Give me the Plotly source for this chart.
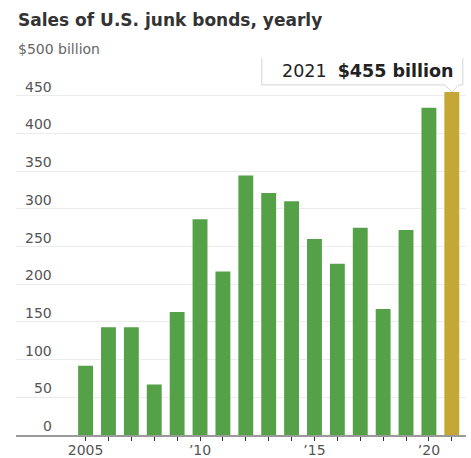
import plotly.graph_objects as go

years = list(range(2005, 2022))
sales = [92, 143, 143, 67, 163, 286, 217, 344, 321, 310, 260, 227, 275, 167, 272, 434, 455]
bar_colors = ["#54a148"] * 16 + ["#c5a735"]
x_tick_text = ["2005", "", "", "", "", "\u201910", "", "", "", "", "\u201915", "", "", "", "", "\u201920", ""]
y_tick_vals = [0, 50, 100, 150, 200, 250, 300, 350, 400, 450]
y_tick_text = [str(v) for v in y_tick_vals]
title_text = "Sales of U.S. junk bonds, yearly"
unit_label = "$500 billion"
highlight_year = 2021
highlight_value = 455

FONT = "DejaVu Sans"
fig = go.Figure()
fig.add_trace(go.Bar(
    x=years, y=sales, width=0.65,
    marker=dict(color=bar_colors, line=dict(width=0)),
    hoverinfo="skip",
))

fig.update_layout(
    width=471, height=458,
    margin=dict(l=16, r=5, t=58, b=23, autoexpand=False),
    paper_bgcolor="white", plot_bgcolor="white",
    showlegend=False,
    font=dict(family=FONT, color="#555555"),
    xaxis=dict(
        range=[2001.96, 2021.62],
        tickvals=years, ticktext=x_tick_text,
        ticks="outside", ticklen=4, tickwidth=1, tickcolor="#333333",
        ticklabelstandoff=-3,
        showline=True, linecolor="#999999", linewidth=1.5,
        showgrid=False, zeroline=False, automargin=False,
        tickfont=dict(size=14, color="#555555"),
        fixedrange=True,
    ),
    yaxis=dict(
        range=[0, 500], tickvals=y_tick_vals + [500],
        showticklabels=False, showgrid=True, gridcolor="#ececec", gridwidth=1,
        zeroline=False, showline=False, fixedrange=True, automargin=False,
    ),
)

annotations = []
annotations.append(dict(
    text="<b>" + title_text + "</b>", xref="paper", yref="paper",
    x=0, y=1, yshift=26, xanchor="left", yanchor="bottom",
    showarrow=False, font=dict(size=17, color="#333333", family=FONT),
))
annotations.append(dict(
    text=unit_label, xref="paper", yref="y", x=0, y=500, yshift=-1,
    xanchor="left", yanchor="bottom", showarrow=False,
    font=dict(size=14, color="#666666", family=FONT),
))
for v, t in zip(y_tick_vals, y_tick_text):
    annotations.append(dict(
        text=t, xref="paper", yref="y", x=(54 - 16) / 450, y=v, yshift=-1,
        xanchor="right", yanchor="bottom", showarrow=False,
        font=dict(size=14, color="#555555", family=FONT),
    ))
annotations.append(dict(
    text="2021\u00a0\u00a0<b>$455 billion</b>", xref="x", yref="y",
    x=highlight_year, y=highlight_value, xshift=3, yshift=21,
    xanchor="right", yanchor="middle", showarrow=False,
    font=dict(size=17.5, color="#222222", family=FONT),
))
fig.update_layout(annotations=annotations)

fig.add_shape(
    type="path", xref="x", yref="y",
    xsizemode="pixel", ysizemode="pixel",
    xanchor=highlight_year, yanchor=highlight_value,
    path="M 0,0 L 7,7 L 11,7 L 11,36 L -190,36 L -190,7 L -7,7 Z",
    fillcolor="white", line=dict(color="#d4d4d4", width=1),
    layer="above",
)

fig.write_html("out.html")
